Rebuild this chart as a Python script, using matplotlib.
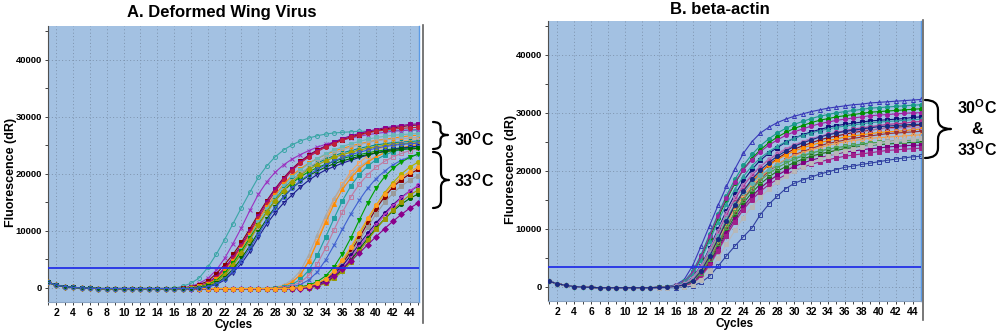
import numpy as np
import matplotlib.pyplot as plt
from matplotlib.path import Path
from matplotlib.patches import PathPatch
from matplotlib.ticker import MultipleLocator

plt.rcParams['font.family'] = ['Liberation Sans', 'DejaVu Sans']
plt.rcParams['mathtext.fontset'] = 'custom'
plt.rcParams['mathtext.rm'] = 'Liberation Sans'
plt.rcParams['mathtext.bf'] = 'Liberation Sans:bold'

cycles = np.arange(1, 46)

# ---- A. Deformed Wing Virus ----
# common baseline, cycles 1-15
base_a = [1000, 500, 250, 100, 0, -50, -100, -100, -100, -100, -100, -100, -100, -100, -100]

# 30C runs, cycles 16-45
dwv_30c = [
    [-50, 300, 800, 1800, 3600, 5900, 8500, 11300, 14100, 16800, 19400, 21400, 23000, 24200, 25100,
     25800, 26300, 26700, 27000, 27200, 27300, 27400, 27500, 27500, 27600, 27600, 27600, 27700, 27700, 27700],
    [-100, 0, 300, 800, 1700, 3100, 5200, 7800, 10600, 13600, 16400, 18600, 20300, 21600, 22600,
     23400, 24100, 24700, 25200, 25600, 26000, 26300, 26600, 26900, 27100, 27300, 27500, 27600, 27700, 27800],
    [-100, -50, 200, 600, 1200, 2500, 4100, 5900, 8000, 10400, 12900, 15300, 17400, 19300, 20900,
     22200, 23300, 24200, 24900, 25500, 26000, 26500, 26900, 27300, 27600, 27900, 28100, 28300, 28500, 28600],
    [-100, -100, 100, 400, 900, 2000, 3500, 5400, 7600, 10000, 12600, 15100, 17300, 19200, 20800,
     22100, 23200, 24100, 24900, 25600, 26200, 26700, 27100, 27500, 27800, 28100, 28300, 28500, 28700, 28800],
    [-100, -100, 100, 300, 800, 1700, 3200, 5100, 7300, 9700, 12200, 14700, 16900, 18900, 20600,
     21900, 23000, 23900, 24700, 25300, 25900, 26400, 26800, 27200, 27500, 27700, 27900, 28000, 28100, 28200],
    [-100, -100, 50, 300, 700, 1500, 2900, 4700, 6900, 9300, 11800, 14200, 16300, 18200, 19700,
     20900, 21900, 22700, 23400, 24000, 24500, 24900, 25300, 25600, 25900, 26100, 26300, 26500, 26700, 26800],
    [-100, -100, 0, 200, 600, 1300, 2600, 4400, 6600, 9000, 11500, 13900, 16000, 17900, 19400,
     20700, 21800, 22700, 23500, 24200, 24800, 25300, 25700, 26100, 26400, 26600, 26800, 26900, 27000, 27100],
    [-100, -100, 0, 200, 600, 1300, 2600, 4400, 6500, 8800, 11100, 13300, 15300, 17000, 18400,
     19500, 20400, 21100, 21700, 22200, 22700, 23100, 23400, 23700, 24000, 24200, 24400, 24600, 24700, 24800],
    [-100, -100, -50, 100, 400, 1000, 2200, 3900, 6000, 8400, 10900, 13300, 15500, 17400, 18900,
     20100, 21100, 21900, 22600, 23200, 23700, 24100, 24500, 24800, 25100, 25300, 25500, 25600, 25700, 25800],
    [-100, -100, -50, 100, 400, 900, 2000, 3700, 5800, 8200, 10700, 13100, 15300, 17200, 18800,
     20100, 21200, 22100, 22900, 23600, 24200, 24700, 25100, 25500, 25800, 26000, 26100, 26200, 26300, 26400],
    [-100, -100, -50, 100, 450, 1100, 2300, 4000, 6100, 8500, 11000, 13300, 15300, 17100, 18600,
     19800, 20800, 21600, 22300, 22900, 23400, 23800, 24200, 24500, 24800, 25000, 25200, 25300, 25400, 25500],
    [-100, -100, -100, 0, 200, 600, 1400, 2700, 4300, 6400, 8900, 11200, 13200, 14900, 16300,
     17700, 18900, 19900, 20700, 21300, 21900, 22400, 22900, 23300, 23700, 24000, 24300, 24500, 24700, 24900],
    [-100, -100, -100, 50, 300, 800, 1800, 3300, 5200, 7400, 9800, 12100, 14200, 16000, 17500,
     18700, 19700, 20500, 21200, 21800, 22300, 22700, 23100, 23400, 23700, 23900, 24100, 24300, 24400, 24500],
    [-100, -100, -100, 0, 250, 700, 1600, 3000, 4800, 7000, 9400, 11800, 14000, 15900, 17500,
     18800, 19900, 20800, 21600, 22300, 22900, 23400, 23800, 24200, 24500, 24800, 25000, 25200, 25300, 25400],
]
a30_colors = ['#3aa6a6', '#9b30c0', '#8b0000', '#8b008b', '#c0203a', '#ff8c00', '#6bb8b8',
              '#009a00', '#008b8b', '#a8a8a8', '#a0a000', '#1a1a8c', '#006400', '#3a5ad0']
a30_markers = ['o', 'x', 's', 's', 'o', 's', 's', 's', 'v', 's', 'D', 'v', 'v', 'o']
a30_open = [True, False, False, False, False, False, False, False, False, True, False, True, False, True]

# 33C runs: baseline cycles 16-26, then cycles 27-45
base_a_late = [-100, -100, -100, -100, -100, -100, -100, -100, -100, -100, -100]
dwv_33c = [
    [-100, 0, 300, 1000, 2300, 4800, 8300, 12000, 15400, 18200, 20400, 22000, 23200, 24100, 24800, 25300, 25700, 26000, 26200],
    [-50, 150, 500, 1400, 3000, 5800, 9300, 12700, 15700, 18100, 19900, 21300, 22300, 23100, 23700, 24200, 24500, 24800, 25000],
    [-100, 50, 300, 1000, 2300, 4700, 8000, 11500, 14700, 17300, 19300, 20900, 22100, 23000, 23700, 24200, 24600, 24900, 25200],
    [-100, -50, 150, 600, 1500, 3100, 5700, 8900, 12200, 15300, 17900, 19900, 21400, 22500, 23300, 23900, 24300, 24600, 24800],
    [-100, -100, 50, 400, 1000, 2200, 4200, 7000, 10200, 13300, 16000, 18200, 19900, 21200, 22200, 23000, 23600, 24100, 24500],
    [-100, -100, 0, 200, 600, 1400, 2800, 4900, 7500, 10300, 13000, 15400, 17500, 19200, 20500, 21600, 22400, 23000, 23500],
    [-100, -100, -100, 0, 200, 500, 1100, 2100, 3700, 6000, 8800, 11900, 14900, 17500, 19500, 21000, 22100, 22900, 23500],
    [-100, -100, -100, -50, 100, 350, 800, 1600, 2900, 4700, 6900, 9400, 12000, 14500, 16700, 18500, 20000, 21200, 22100],
    [-100, -100, -100, -50, 50, 300, 700, 1400, 2600, 4300, 6400, 8800, 11400, 13900, 16000, 17700, 19000, 20000, 20800],
    [-100, -100, -100, -100, 0, 200, 600, 1300, 2400, 4000, 6000, 8300, 10700, 13000, 15000, 16600, 17900, 18900, 19700],
    [-100, -100, -100, -100, 0, 200, 600, 1300, 2400, 3900, 5700, 7700, 9600, 11400, 13100, 14600, 15900, 17000, 17900],
    [-100, -100, -100, -100, -50, 100, 450, 1000, 2000, 3400, 5200, 7200, 9100, 11000, 12800, 14400, 15800, 17000, 18000],
    [-100, -100, -100, -100, -50, 100, 400, 1000, 1900, 3200, 4900, 6800, 8700, 10500, 12100, 13500, 14700, 15700, 16500],
    [-100, -100, -100, -100, -50, 50, 300, 800, 1700, 2900, 4500, 6400, 8400, 10300, 12100, 13700, 15100, 16300, 17200],
    [-100, -100, -100, -100, -100, 0, 400, 1000, 2100, 3400, 4800, 6100, 7600, 9000, 10400, 11700, 12900, 14000, 14900],
    [-100, -100, -100, -50, 50, 300, 800, 1600, 3000, 4900, 7200, 9700, 12200, 14500, 16500, 18100, 19400, 20400, 21200],
]
a33_colors = ['#f4a460', '#a9a9a9', '#ff8c00', '#20a0a0', '#c07aa0', '#4060d0', '#00a000', '#b0b000',
              '#8b0000', '#9a9a9a', '#2e0080', '#c040c0', '#006400', '#9a9a00', '#8b008b', '#ffa020']
a33_markers = ['s', '^', '^', 's', 's', 'x', 'v', 'o', 's', 's', 'o', 'o', 'o', 's', 'D', 'o']
a33_open = [True, False, False, False, True, False, False, False, False, False, False, True, False, False, False, False]

# ---- B. beta-actin ----
base_b = [900, 500, 200, 0, -100, -150, -200, -200, -200, -200, -200, -200, -200]
# cycles 14-45
actin = [
    [-100, 0, 300, 1200, 3600, 7000, 10500, 14000, 17300, 20300, 23000, 25000, 26500, 27500, 28300, 28900,
     29400, 29800, 30200, 30500, 30800, 31000, 31200, 31400, 31500, 31700, 31800, 31900, 32000, 32100, 32200, 32300],
    [-150, -50, 200, 900, 2600, 5500, 9000, 12500, 15700, 18500, 20900, 22800, 24300, 25500, 26500, 27300,
     28000, 28500, 29000, 29400, 29700, 30000, 30200, 30400, 30600, 30800, 30900, 31000, 31100, 31200, 31300, 31400],
    [-150, -100, 150, 700, 2200, 4900, 8300, 11800, 15000, 17800, 20200, 22100, 23600, 24800, 25800, 26600,
     27300, 27800, 28300, 28700, 29000, 29300, 29500, 29700, 29900, 30100, 30200, 30300, 30400, 30500, 30600, 30700],
    [-150, -100, 200, 800, 2400, 5200, 8700, 12200, 15300, 18000, 20200, 21900, 23300, 24400, 25300, 26100,
     26700, 27200, 27700, 28100, 28400, 28700, 28900, 29100, 29300, 29500, 29600, 29700, 29800, 29900, 30000, 30000],
    [-150, -100, 100, 500, 1600, 3600, 6600, 9900, 13100, 15900, 18300, 20200, 21800, 23000, 24000, 24900,
     25600, 26200, 26700, 27100, 27500, 27800, 28000, 28200, 28400, 28600, 28700, 28800, 28900, 29000, 29200, 29300],
    [-150, -100, 150, 700, 2100, 4600, 7900, 11200, 14200, 16800, 19000, 20800, 22200, 23300, 24200, 25000,
     25600, 26100, 26500, 26900, 27200, 27500, 27700, 27900, 28100, 28300, 28400, 28500, 28600, 28700, 28800, 28900],
    [-150, -100, 50, 400, 1400, 3300, 6100, 9300, 12400, 15100, 17400, 19200, 20700, 21900, 22900, 23700,
     24400, 25000, 25500, 25900, 26300, 26600, 26900, 27200, 27400, 27600, 27800, 28000, 28100, 28200, 28400, 28500],
    [-150, -150, 0, 300, 1100, 2700, 5200, 8200, 11200, 13900, 16200, 18100, 19700, 21000, 22100, 23000,
     23700, 24300, 24800, 25300, 25700, 26000, 26300, 26600, 26800, 27000, 27200, 27400, 27500, 27600, 27800, 27900],
    [-150, -150, 50, 350, 1200, 3000, 5600, 8600, 11600, 14200, 16400, 18200, 19700, 20900, 21900, 22700,
     23400, 23900, 24400, 24800, 25200, 25500, 25800, 26000, 26200, 26400, 26600, 26700, 26800, 26900, 27100, 27200],
    [-150, -150, -50, 200, 800, 2200, 4400, 7200, 10100, 12800, 15100, 17000, 18600, 19900, 21000, 21900,
     22700, 23300, 23800, 24300, 24700, 25000, 25300, 25600, 25800, 26000, 26200, 26400, 26500, 26600, 26700, 26800],
    [-150, -150, 0, 300, 1000, 2600, 5000, 7900, 10800, 13400, 15600, 17400, 18900, 20100, 21100, 21900,
     22600, 23100, 23600, 24000, 24400, 24700, 25000, 25200, 25400, 25600, 25700, 25800, 25900, 26000, 26100, 26200],
    [-200, -150, -100, 100, 500, 1600, 3500, 6000, 8700, 11200, 13400, 15300, 16900, 18200, 19300, 20200,
     21000, 21700, 22300, 22800, 23200, 23600, 23900, 24200, 24500, 24700, 24900, 25100, 25200, 25300, 25500, 25600],
    [-150, -100, 50, 400, 1300, 3100, 5800, 8800, 11700, 14200, 16300, 17900, 19200, 20200, 21000, 21700,
     22200, 22700, 23100, 23400, 23700, 23900, 24100, 24300, 24400, 24500, 24600, 24700, 24800, 24900, 25000, 25000],
    [-150, -150, -50, 200, 700, 2000, 4100, 6800, 9600, 12200, 14400, 16200, 17700, 18900, 19900, 20700,
     21400, 22000, 22500, 22900, 23200, 23500, 23800, 24000, 24200, 24400, 24500, 24600, 24700, 24800, 24900, 24900],
    [-200, -150, -50, 150, 650, 1900, 3900, 6500, 9200, 11700, 13800, 15600, 17000, 18200, 19200, 20000,
     20700, 21300, 21800, 22200, 22600, 22900, 23200, 23400, 23600, 23800, 23900, 24100, 24200, 24300, 24400, 24400],
    [-200, -150, -50, 150, 600, 1800, 3700, 6200, 8800, 11200, 13300, 15000, 16400, 17600, 18500, 19300,
     20000, 20600, 21100, 21500, 21900, 22200, 22500, 22700, 22900, 23100, 23300, 23500, 23600, 23700, 23800, 23900],
    [-200, -200, -200, -100, 100, 700, 1800, 3500, 5300, 7000, 8600, 10100, 12400, 14200, 15600, 16900,
     17800, 18400, 18900, 19400, 19800, 20200, 20600, 20800, 21100, 21300, 21550, 21800, 22000, 22200, 22400, 22500],
    [-150, -150, 0, 250, 900, 2400, 4700, 7500, 10300, 12800, 15000, 16800, 18300, 19500, 20500, 21300,
     22000, 22500, 23000, 23400, 23700, 24000, 24200, 24400, 24600, 24800, 24900, 25000, 25100, 25200, 25300, 25300],
    [-150, -100, 100, 500, 1500, 3500, 6400, 9600, 12700, 15400, 17600, 19400, 20800, 22000, 23000, 23800,
     24500, 25000, 25500, 25900, 26200, 26500, 26700, 26900, 27000, 27100, 27200, 27300, 27300, 27400, 27500, 27500],
    [-200, -200, -150, 0, 300, 1100, 2700, 4900, 7300, 9700, 11900, 13800, 15400, 16800, 18000, 19000,
     19900, 20700, 21400, 22000, 22500, 23000, 23400, 23800, 24100, 24400, 24700, 24900, 25100, 25300, 25500, 25600],
    [-150, -150, 0, 300, 1000, 2700, 5200, 8200, 11300, 14100, 16500, 18500, 20100, 21400, 22500, 23400,
     24200, 24800, 25300, 25800, 26200, 26500, 26800, 27000, 27200, 27400, 27600, 27700, 27800, 27900, 28000, 28000],
]
b_colors = ['#3838b8', '#1a9a8a', '#009000', '#a020a0', '#10107a', '#2a9d9d', '#b03090', '#8b1010',
            '#ff8c00', '#a03030', '#f0a050', '#a0a0a0', '#60b0b0', '#207020', '#800080', '#a0208a',
            '#3040a0', '#50a050', '#b080c0', '#b8b8b8', '#1a2a80']
b_markers = ['^', 'o', 'o', 'o', 's', '^', 'o', 's', 'o', 'v', 'o', 's', 'D', 's', 's', 's',
             's', 's', 'o', 's', 'o']
b_open = [True, False, False, False, False, False, False, False, False, False, True, False, False, False,
          False, False, True, True, True, False, False]

thr_a = 3560
thr_b = 3420

bg = '#a3c1e2'
grid_col = '#7d93ad'


def draw_curve(ax, y, col, mk, hollow):
    ax.plot(cycles, y, color=col, lw=0.8, marker=mk, ms=2.9, mew=0.7,
            mfc='none' if hollow else col, mec=col, zorder=3)


def style_axis(ax, ylim, xlim):
    ax.set_facecolor(bg)
    ax.set_xlim(*xlim)
    ax.set_ylim(*ylim)
    ax.xaxis.set_minor_locator(MultipleLocator(1))
    ax.yaxis.set_major_locator(MultipleLocator(10000))
    ax.yaxis.set_minor_locator(MultipleLocator(5000))
    ax.set_xticks(range(2, 45, 2))
    ax.grid(True, which='major', color=grid_col, ls=(0, (1, 2.5)), lw=0.7)
    ax.set_axisbelow(True)
    ax.tick_params(axis='x', which='both', direction='out', length=2.5, width=0.7,
                   color='#404040', labelsize=7.5, pad=1.5)
    ax.tick_params(axis='y', which='both', direction='out', length=2.5, width=0.7,
                   color='#404040', labelsize=6.8, pad=1.5)
    for lab in ax.get_xticklabels() + ax.get_yticklabels():
        lab.set_fontweight('bold')
    ax.spines['top'].set_visible(False)
    ax.spines['left'].set_color('#505050')
    ax.spines['bottom'].set_color('#8aa4c4')
    ax.spines['right'].set_color('#5a9ae6')
    ax.spines['right'].set_linewidth(1.0)
    ax.set_xlabel('Cycles', fontsize=8.5, fontweight='bold', labelpad=1)
    ax.set_ylabel('Fluorescence (dR)', fontsize=9, fontweight='bold')
    ax.yaxis.set_label_coords(-0.082, 0.47)


fig = plt.figure(figsize=(10, 3.33), dpi=100)

ax1 = fig.add_axes([0.0475, 0.0931, 0.3715, 0.8288])
for row, col, mk, ho in zip(dwv_33c, a33_colors, a33_markers, a33_open):
    draw_curve(ax1, base_a + base_a_late + row, col, mk, ho)
for row, col, mk, ho in zip(dwv_30c, a30_colors, a30_markers, a30_open):
    draw_curve(ax1, base_a + row, col, mk, ho)
ax1.axhline(thr_a, color='#2330e6', lw=1.3, zorder=4)
style_axis(ax1, (-2460, 45960), (0.95, 45.1))

ax2 = fig.add_axes([0.5477, 0.0961, 0.373, 0.8417])
for row, col, mk, ho in zip(actin, b_colors, b_markers, b_open):
    draw_curve(ax2, base_b + row, col, mk, ho)
ax2.axhline(thr_b, color='#2330e6', lw=1.3, zorder=4)
style_axis(ax2, (-2500, 45900), (0.87, 44.96))

fig.text(0.222, 1 - 12 / 333, 'A. Deformed Wing Virus', ha='center', va='center',
         fontsize=12, fontweight='bold')
fig.text(0.720, 1 - 9 / 333, 'B. beta-actin', ha='center', va='center',
         fontsize=12, fontweight='bold')

# overlay in pixel units for the braces and separators
ov = fig.add_axes([0, 0, 1, 1], zorder=5)
ov.set_xlim(0, 1000)
ov.set_ylim(333, 0)
ov.axis('off')


def brace(x0, x1, yt, yb, ym, q):
    xm = (x0 + x1) / 2
    verts = [(x0, yt), (xm, yt), (xm, yt + q), (xm, ym - q), (xm, ym), (x1, ym),
             (xm, ym), (xm, ym + q), (xm, yb - q), (xm, yb), (x0, yb)]
    codes = [Path.MOVETO, Path.CURVE3, Path.CURVE3, Path.LINETO, Path.CURVE3, Path.CURVE3,
             Path.CURVE3, Path.CURVE3, Path.LINETO, Path.CURVE3, Path.CURVE3]
    ov.add_patch(PathPatch(Path(verts, codes), fill=False, lw=1.6, color='black',
                           capstyle='round', joinstyle='round'))


ov.plot([422.5, 422.5], [25, 323], color='#606060', lw=1.2)
ov.plot([922.5, 922.5], [20, 320], color='#606060', lw=1.2)

brace(433, 448, 122, 149, 135, 5)
brace(433, 449, 152, 208, 180, 7)
brace(925, 951, 100, 158, 129, 10)

tfs = 11.5
ov.text(474, 140, r'$\mathbf{30^{O}C}$', ha='center', va='center', fontsize=tfs)
ov.text(474, 181, r'$\mathbf{33^{O}C}$', ha='center', va='center', fontsize=tfs)
ov.text(977, 108, r'$\mathbf{30^{O}C}$', ha='center', va='center', fontsize=tfs)
ov.text(977, 129, '&', ha='center', va='center', fontsize=tfs, fontweight='bold')
ov.text(977, 150, r'$\mathbf{33^{O}C}$', ha='center', va='center', fontsize=tfs)

fig.savefig('out.png', dpi=100)
